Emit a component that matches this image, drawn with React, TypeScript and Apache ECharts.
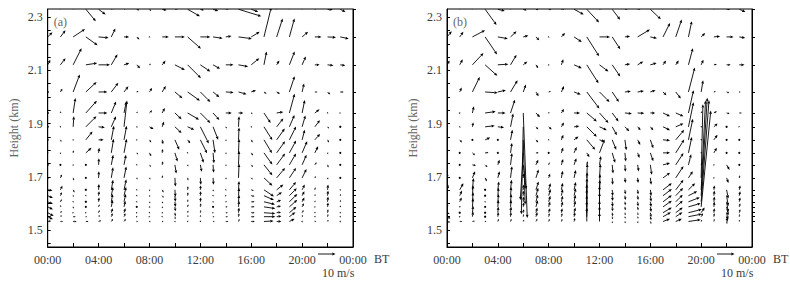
import React, { useEffect, useRef } from "react";
import * as echarts from "echarts";

// hour of day (BT) of each profile column
const hours = [0, 1, 2, 3, 4, 5, 6, 7, 8, 9, 10, 11, 12, 13, 14, 15, 16, 17, 18, 19, 20, 21, 22, 23];
// heights (km) of the wind levels, top to bottom
const heights = [2.33, 2.226, 2.121, 2.019, 1.94, 1.888, 1.839, 1.79, 1.745, 1.696, 1.651, 1.629, 1.606, 1.587, 1.565, 1.55, 1.532];
const xTickLabels = ["00:00", "04:00", "08:00", "12:00", "16:00", "20:00", "00:00"];
const yTickLabels = [1.5, 1.7, 1.9, 2.1, 2.3];
const refSpeed = 10; // m/s, key arrow

// wind (u, v) in m/s, one row per height, one pair per hour — panel (a)
const windA: number[][][] = [
  [[1,2],[1.5,2],[2,3],[5.7,-6.9],[4,-3],[2,1],[1,0.5],[1.5,-0.5],[1,-1],[2.5,-0.5],[2,0.5],[7,-4],[2,-0.5],[3,-1],[2,0.5],[13,-4],[4,-1.5],[2,3],[2,3],[1,2],[1,1],[1,0.5],[3,-0.3],[3,-1.5]],
  [[2.7,2.7],[2.9,3.8],[6.8,4.5],[6.7,-4.8],[5.7,-0.5],[2.3,4.8],[2.9,0],[1.5,-1.5],[0.5,-0.3],[3.8,0],[5.7,0],[7.6,-6.7],[5.7,0],[5.5,-0.8],[3.3,0.5],[7.6,-1],[4.8,2.9],[4.2,17],[3.4,10.5],[2.9,10.5],[3.4,2.9],[3.8,0],[4.8,-0.3],[4.8,-1]],
  [[1.5,2.9],[2.9,3.8],[4.8,9.5],[6.5,1],[6.5,0],[3.5,6],[3,1],[1.9,-1.9],[0.8,0.6],[1.9,2.3],[5.7,-2.9],[7.6,-7.6],[5.7,-3.8],[4,-2.3],[4.4,0],[5.5,-1],[4.6,3.8],[1.5,7.6],[1.5,2.5],[3,7.6],[2.1,4.8],[2.7,0],[3.4,-0.4],[2.9,-0.4]],
  [[0.3,0],[1.1,1.9],[3.8,10],[6.1,5.7],[5,0],[4,5.3],[2.5,3.2],[1,0.5],[1.5,2.3],[2.1,3.4],[4.3,-3.6],[7,-5],[5.7,-5.7],[3.6,-3],[4.5,-0.3],[4.6,-1.3],[2.7,1],[1.5,-1],[1.9,-1],[3,9],[1.1,4.8],[1.5,0],[1.5,-1.5],[1.9,0]],
  [[0.2,0],[0.3,1],[1.3,8.5],[6.3,7],[5,0],[2.7,6.5],[1.3,6.5],[0.5,0.8],[1.5,1.5],[1.5,2.9],[3.8,-3.6],[6.5,-3.8],[5.7,-5.7],[3.6,-4],[3.4,0],[2.7,0],[0.8,-0.5],[3.8,-5.7],[3.8,0.6],[3,11],[1.5,7.4],[2.7,2.1],[0.4,-0.5],[0.5,0]],
  [[0.3,0],[0.3,-0.5],[0.4,6],[6,6],[3.6,-0.4],[2.7,6],[1.7,15],[0.5,-0.5],[2.3,-1.3],[1,3],[3.8,-3.6],[3.8,-1.7],[4.8,-9.5],[2.9,-7.4],[0.5,-1],[0.3,6],[0.5,-0.5],[4.8,-7.6],[3.8,4.8],[2.9,6.7],[1.9,6.5],[2.9,3.8],[0.8,-1],[0.3,0]],
  [[0.2,0.3],[0.5,-1.2],[0.3,0.5],[3.8,4.8],[2.9,0],[1.5,8],[1.5,8],[0.3,0.5],[1,-1.5],[0.5,-2.5],[2.5,-5.7],[1.5,-2],[3.8,-7.6],[1.1,-7.6],[0.3,-0.8],[0.3,7],[0.8,-1.5],[4.6,-7.6],[4.6,6.5],[3.8,7.6],[1.5,5.7],[3,3.4],[0.8,-1.5],[0.3,0]],
  [[0.3,0.5],[0.2,-0.8],[0.2,1.5],[3.2,2.9],[0.4,2.9],[1.3,8],[1.5,8],[0.8,-1],[1,-1.9],[0.3,2.2],[1.5,-5],[0.3,-0.5],[1.9,-5.7],[0.5,-6],[0.3,-0.8],[0.3,8],[1,-1.5],[4.8,-6.7],[4.8,6.7],[3.8,7],[2.9,6.7],[1.9,3.8],[0.3,-0.8],[0.3,0]],
  [[0.3,0],[0.2,0.3],[0.2,0.5],[0.3,0.3],[0.2,3.8],[1.1,5.7],[1.1,5.7],[0.3,-0.5],[0.8,-1.2],[0.4,2],[0.8,-5],[0.3,-1],[0.8,-4],[0.3,-4.5],[0.3,-0.8],[0.3,8],[1,-1.3],[4.8,-6],[4.8,6.5],[3.8,6.5],[2.5,5.7],[1,1.5],[0.5,-1.5],[0.3,0]],
  [[0.2,0],[0.8,1.9],[0.5,-1.5],[0.2,0.3],[0.2,3.8],[1,6],[1.3,6.5],[0.3,-1],[0.5,-1],[0.3,1.5],[0.3,-5],[0.3,-1.5],[0.3,-4],[0.3,-4],[0.3,-1],[0.3,8],[0.8,-1],[4.8,-4.5],[4.8,5.7],[3.8,5.7],[2.5,5],[0.5,1],[0.3,-1],[0.3,0]],
  [[2.7,-0.4],[1.1,2.3],[0.8,-1.5],[0.2,0.3],[0.2,3.4],[1,5.7],[1.3,6],[0.3,-0.5],[0.3,-0.8],[0.8,-1.5],[0.3,-4],[0.2,2],[0.2,2.5],[0.2,-1],[0.3,-0.5],[0.3,5],[1.5,-0.5],[5.7,-3.8],[3.8,3],[3.8,4.5],[1.5,3],[0.3,1.5],[0.3,3],[0.3,0.5]],
  [[3,-1.3],[0.8,2],[0.3,-0.8],[0.2,-0.5],[0.3,2.5],[1,5],[1.2,5],[0.3,-0.5],[0.3,-0.8],[0.8,-1.2],[0.3,-3.5],[0.2,2],[0.2,2.5],[0.3,-0.5],[0.5,0],[0.3,4.5],[1.9,-0.3],[5.7,-2.5],[3,2],[4.2,4.2],[1.3,2.5],[0.3,1],[0.3,3],[0.3,1]],
  [[3,-1.3],[0.8,1.5],[0.3,-0.5],[0.3,-0.3],[0.3,2.5],[0.8,4.5],[1,4.5],[0.3,-0.5],[0.5,-0.8],[0.5,-1],[0.3,-3],[0.2,1.5],[0.2,2.5],[0.3,-0.5],[0.8,0],[0.3,4],[1.9,0],[6.3,-1.5],[2.5,1],[4.5,4.5],[1.3,2.5],[0.3,0.8],[0.3,3],[0.3,1]],
  [[3,-1.5],[0.3,1],[0.3,-1],[0.3,0],[0.5,1.5],[0.8,4],[0.8,3.5],[0.3,-0.3],[0.5,-0.5],[0.5,-0.8],[0.3,-2.5],[0.3,1.5],[0.3,2],[0.3,-0.3],[1,0],[0.3,3.5],[1.9,0],[6.5,-1],[2.5,0.5],[4.5,4],[1,2],[0.3,0.5],[0.3,2.5],[0.3,0.8]],
  [[3.4,-1.9],[0.8,1],[0.5,0],[0.5,0],[0.5,1.5],[0.8,2.5],[0.8,2.5],[0.5,0],[0.5,-0.3],[0.5,-0.5],[0.3,-2],[0.3,1.2],[0.3,1.5],[0.5,0],[1.2,0],[0.3,3],[1.9,0],[6.5,-0.5],[2.5,0.3],[4,3.4],[0.8,1.5],[0.5,0.5],[0.3,2],[0.3,0.5]],
  [[3,-1.5],[0.8,0.8],[1.5,0],[0.8,0],[0.8,0.8],[0.8,2],[0.8,2],[0.5,0],[0.5,0],[0.5,-0.3],[0.3,-1.5],[0.3,1],[0.3,1],[0.8,0],[1.3,0],[0.3,2],[1.9,0],[6.5,0],[2.7,0.3],[3.4,2.5],[0.5,1],[0.5,0.5],[0.3,1.5],[0.3,0.5]],
  [[2,0.3],[1.5,0],[2,0],[1.5,0],[1.5,0.5],[1,1.5],[1,1.5],[0.8,0],[0.8,0],[0.8,0],[0.5,-0.5],[0.5,0.5],[0.5,0.5],[1,0],[1.5,0],[0.5,1.5],[2,0],[5.5,0.3],[2.7,0],[3,1.5],[0.3,0.5],[0.8,0.3],[0.5,1],[0.3,0.5]],
];

// wind (u, v) in m/s — panel (b)
const windB: number[][][] = [
  [[1,2],[1,2],[1.5,2],[6.5,-9],[4,-1],[1,1],[2,-0.5],[1.5,-0.3],[1.5,-0.3],[2,0.3],[5.5,-3],[7,-7.5],[2,1],[4.5,-6],[2,0.5],[2,0.5],[6,-5.7],[2,3],[2,3],[1,2],[1,1],[1,1],[2,0],[3.5,-1.5]],
  [[2.7,3.2],[2.1,2.9],[7.2,3.8],[6.8,-10],[5.7,-1],[3.4,3.2],[2.9,0.8],[1.9,-1.9],[0.5,-0.3],[2.1,2.3],[4.4,-2.9],[7,-11],[6,0],[4.6,-7],[3,0.4],[7,4.2],[3.8,-0.8],[4,8],[3.4,9.9],[1.9,9],[2.3,2.3],[3.6,0.4],[4,0],[3.4,-0.6]],
  [[1.5,2.5],[1.7,3.2],[6.3,6.7],[7,-6.3],[6,0.4],[3.4,5.7],[2.3,1.9],[1.3,-1.9],[0.3,0.5],[1.1,3.2],[4.4,-1.9],[6.7,-10.5],[5.1,-3.8],[4.6,-6.7],[3,0.5],[3.2,1.9],[3.6,1],[1.7,2.5],[1.7,2.5],[2.5,9.5],[1.3,2.9],[1.7,0.4],[2.3,0],[3,0]],
  [[0.3,0],[1.1,2.5],[4.2,8.6],[7.2,-0.5],[4.6,1],[4,6.7],[1.5,4.2],[1.5,-2.5],[1.3,0.5],[1.5,3.4],[3.8,-1.5],[7.2,-9.5],[5.7,-5.7],[3.8,-5.7],[3.4,0.4],[3.6,0.6],[3,1],[1.9,-1.9],[2.9,-3.8],[3.6,14],[1.1,6.7],[1.1,0.4],[1.5,-0.6],[0.8,0]],
  [[0.3,0],[0.3,0.5],[0.8,3.8],[6,0.8],[4.4,0],[2.5,7.6],[2.3,-60],[2.3,-2.5],[0.5,0.5],[1.5,2.3],[3.4,0],[5.7,-4.8],[5.1,-5.7],[3.6,-4.8],[4,-0.4],[3.8,-0.2],[2.7,0],[4,-1.9],[4.4,-1.9],[2.9,13],[0.5,1],[1.7,1],[1.7,-0.4],[1.5,0]],
  [[0.3,0],[0.5,-0.5],[0.5,2.5],[5.5,0.6],[3.6,-0.4],[1.5,7.6],[-1.1,-50],[1.3,-1.5],[1.7,-1.5],[1.5,2.5],[3,0.4],[5.7,-5.7],[4.2,-1.9],[2.7,-4.8],[2.5,-2.5],[1.7,-1.9],[1.7,-1.9],[4,-1.9],[4.4,1.9],[2.9,14],[0.5,0.5],[2.1,1.9],[0.3,-0.3],[0.5,0]],
  [[0.3,0],[1.3,-1.5],[0.3,0.3],[2.9,1.3],[0.3,0.3],[1.1,5.7],[1.1,-37],[1.3,-1.5],[0.3,-0.5],[1.1,2.9],[2.5,1.9],[4.8,-5.7],[3,-1],[2.3,-5.7],[0.8,-6],[1.5,-2.9],[1.7,-4.8],[4,-0.4],[4.8,5.7],[2.5,12],[0.5,0.5],[2.1,2.9],[0.3,-0.3],[0.3,0]],
  [[0.3,0],[0.3,0.3],[1.5,-1.3],[1.9,0.2],[0.3,0.3],[0.8,5.7],[-1.7,-27],[1.5,0],[0.3,0.3],[1,3],[1.5,3.4],[1.5,-2.5],[2.9,7.6],[1.7,-5.7],[0.5,-5],[1.1,-2.9],[1.7,-4.8],[4,0],[4.8,7.6],[1.9,9],[0.5,0.5],[1.7,2.9],[0.3,-0.3],[0.3,0]],
  [[0.3,0],[0.3,0],[2,-0.4],[1.3,-1.3],[1,2.9],[0.8,6.7],[1.7,-14],[1.3,2.9],[0.5,1.5],[1,3.4],[1.3,3.8],[0.5,2],[0.8,5],[0.5,-5],[0.3,-4],[0.6,-3.8],[0.8,-5.7],[4,1],[4.4,6.7],[1.5,6],[0.5,1],[0.3,0.5],[1.7,-2.9],[0.3,0.3]],
  [[0.2,2.9],[0.3,0],[1.5,3.8],[1,-1.9],[1,3.8],[0.8,6.7],[0.3,2.5],[1.5,4.8],[0.8,2.3],[0.8,4],[1,4.5],[0.3,8],[0.5,8],[0.3,-4],[0.3,-3],[0.3,-3],[0.5,-4],[4,2.9],[4.4,6.7],[2.5,3.8],[1,42],[0.3,0.5],[1.1,-2.9],[0.3,1.5]],
  [[0.8,2.9],[2.1,3.8],[0.6,6.7],[0.3,0.3],[0.6,4.8],[0.6,5.7],[0.3,3],[1.5,4.8],[1.1,3.8],[0.8,4],[1,4.5],[0.2,10],[0.3,9],[0.3,-3.5],[0.3,-2.5],[0.3,-2.5],[0.5,-3.5],[5,3.8],[4.4,5.7],[3.8,3.8],[2.5,51],[0.3,2.5],[1,-5],[0.5,2.5]],
  [[0.3,0.3],[1.3,2.9],[0.4,6],[0.3,0.3],[0.4,4.5],[0.4,5],[0.3,3],[1.3,4.5],[1.1,3.8],[0.8,3.8],[1,4.2],[0.1,10],[0.2,9],[0.3,-3],[0.3,-2.5],[0.3,-2.5],[0.5,-3.5],[5,3.8],[4.2,4.4],[5,2.5],[3.5,56],[0.3,3],[1,-6],[0.5,2.5]],
  [[0.5,1.5],[1.1,2.5],[0.4,5.5],[0.3,-0.5],[0.4,4.5],[0.4,4.5],[0.3,3],[1.1,4.2],[1,3.4],[0.8,3.5],[0.8,4],[0,10],[0,9],[0.3,-3],[0.3,-2],[0.3,-2.5],[0.5,-3],[5,3.8],[4,4],[6.5,2.5],[4.5,58],[0.3,3],[1,-6],[0.5,2.5]],
  [[0.8,0.8],[0.5,0.5],[0.4,5],[0.3,0],[0.3,4],[0.3,4],[0.3,2.5],[1,3.8],[0.8,3],[0.8,3],[0.8,3.5],[0,10],[0,8],[0.3,-2.5],[0.3,-2],[0.3,-2],[0.5,-3],[5,3.5],[4,3.5],[7,2],[5.5,55],[0.3,3],[1,-5],[0.5,2]],
  [[1.5,-0.8],[0.3,0.3],[0.4,4],[0.3,0],[0.3,3.5],[0.3,3.5],[0.3,2],[0.8,3],[0.8,2.5],[0.5,2.5],[0.8,3],[0,10],[0,7],[0.3,-2],[0.3,-1.5],[0.3,-1.5],[0.5,-2.5],[5,3],[4,3],[7.6,1.9],[2,3],[0.3,2.5],[0.8,-4],[0.5,2]],
  [[2,-1],[0.5,0.3],[0.4,3],[0.3,0],[0.3,2.5],[0.3,2.5],[0.3,1.5],[0.8,2.5],[0.5,2],[0.5,2],[0.5,2.5],[0,9],[0,6],[0.3,-1.5],[0.3,-1.2],[0.3,-1.2],[0.5,-2],[4.5,2.5],[3.8,2.5],[7.6,1.5],[1,2],[0.3,2],[0.5,-3],[0.3,1.5]],
  [[1.9,-0.4],[1.5,0],[1.5,0.3],[0.8,0],[0.5,1.5],[0.5,1.5],[0.5,1],[0.8,1.5],[0.5,1.5],[0.5,1.5],[0.5,2],[0,8],[0,5],[0.3,-1],[0.3,-1],[0.3,-1],[0.5,-1.5],[4,1.5],[3.5,1.5],[7,1],[0.5,1],[0.3,1.5],[0.3,-1.5],[0.3,1]],
];

const K = 1.75; // pixels per m/s
const Y_MIN = 1.436;
const Y_MAX = 2.331;
const FONT = "'Liberation Serif', 'DejaVu Serif', serif";
const LABEL_COLOR = "#3a3a3a";
const NAME_COLOR = "#666";

function buildData(wind: number[][][]) {
  const out: number[][] = [];
  heights.forEach((h, i) => {
    hours.forEach((hr, j) => {
      const w = wind[i][j];
      out.push([hr, h, w[0], w[1]]);
    });
  });
  return out;
}

function arrowShapes(x0: number, y0: number, dx: number, dy: number) {
  const len = Math.sqrt(dx * dx + dy * dy);
  if (len < 0.8) {
    return [{ type: "circle", shape: { cx: x0, cy: y0, r: 1.1 }, style: { fill: "#000" } }];
  }
  const ex = x0 + dx, ey = y0 + dy;
  const ux = dx / len, uy = dy / len;
  const hl = Math.min(3.2, Math.max(1.6, len * 0.6));
  const hw = Math.min(1.4, hl * 0.5);
  const bx = ex - ux * hl, by = ey - uy * hl;
  const children: any[] = [];
  if (len > hl) {
    children.push({ type: "line", shape: { x1: x0, y1: y0, x2: bx, y2: by }, style: { stroke: "#000", lineWidth: 0.9 } });
  }
  children.push({
    type: "polygon",
    shape: { points: [[ex, ey], [bx - uy * hw, by + ux * hw], [bx + uy * hw, by - ux * hw]] },
    style: { fill: "#000" },
  });
  return children;
}

function renderArrow(_params: any, api: any) {
  const x = api.value(0), y = api.value(1), u = api.value(2), v = api.value(3);
  const p = api.coord([x, y]);
  return { type: "group", children: arrowShapes(p[0], p[1], u * K, -v * K) };
}

const leftTicks: number[] = [];
for (let k = 29; k <= 46; k++) leftTicks.push(Math.round(k * 5) / 100);

export default function App() {
  const ref = useRef<HTMLDivElement>(null);
  useEffect(() => {
    if (!ref.current) return;
    const chart = echarts.init(ref.current, null, { renderer: "svg" });
    const grids = [
      { left: 47.7, top: 9, width: 305.3, height: 238 },
      { left: 447, top: 9, width: 305, height: 238 },
    ];
    const xAxes = grids.map((_g, i) => ({
      type: "value",
      gridIndex: i,
      min: 0,
      max: 24,
      interval: 4,
      axisLine: { show: true, lineStyle: { color: "#000", width: 1 } },
      axisTick: { show: true, inside: true, length: 4, lineStyle: { color: "#000" } },
      minorTick: { show: true, splitNumber: 2, length: 4, lineStyle: { color: "#000" } },
      splitLine: { show: false },
      axisLabel: {
        margin: 7,
        fontSize: 12,
        fontFamily: FONT,
        color: LABEL_COLOR,
        formatter: (val: number) => xTickLabels[Math.round(val / 4)],
      },
    }));
    const yAxes: any[] = [];
    grids.forEach((_g, i) => {
      yAxes.push({
        type: "value",
        gridIndex: i,
        position: "left",
        min: Y_MIN,
        max: Y_MAX,
        name: "Height (km)",
        nameLocation: "middle",
        nameGap: 28,
        nameTextStyle: { fontSize: 12, fontFamily: FONT, color: NAME_COLOR },
        axisLine: { show: true, lineStyle: { color: "#000", width: 1 } },
        axisTick: { show: true, inside: true, length: 3, customValues: leftTicks, lineStyle: { color: "#000" } },
        splitLine: { show: false },
        axisLabel: {
          margin: 5,
          fontSize: 12,
          fontFamily: FONT,
          color: LABEL_COLOR,
          customValues: yTickLabels,
          formatter: (val: number) => val.toFixed(1),
        },
      });
      yAxes.push({
        type: "value",
        gridIndex: i,
        position: "right",
        min: Y_MIN,
        max: Y_MAX,
        axisLine: { show: true, lineStyle: { color: "#000", width: 1 } },
        axisTick: { show: true, inside: false, length: 3, customValues: heights, lineStyle: { color: "#000" } },
        axisLabel: { show: false },
        splitLine: { show: false },
      });
    });

    const keyArrow = (x: number, y: number) => ({
      type: "group",
      children: arrowShapes(x, y, refSpeed * K, 0).map((c: any) => ({ ...c, silent: true })),
    });

    const graphic: any[] = [];
    const panelLabels = ["(a)", "(b)"];
    grids.forEach((g, i) => {
      const right = g.left + g.width;
      graphic.push({
        type: "text",
        left: g.left + 6,
        top: 16,
        style: { text: panelLabels[i], fontSize: 12, fontFamily: FONT, fill: NAME_COLOR },
      });
      graphic.push({
        type: "text",
        left: right + 21,
        top: 253,
        style: { text: "BT", fontSize: 12, fontFamily: FONT, fill: LABEL_COLOR },
      });
      graphic.push(keyArrow(right - 35, 254));
      graphic.push({
        type: "text",
        left: right - 31,
        top: 267,
        style: { text: refSpeed + " m/s", fontSize: 12, fontFamily: FONT, fill: LABEL_COLOR },
      });
    });

    chart.setOption({
      animation: false,
      backgroundColor: "#fff",
      grid: grids.map((g) => ({ ...g, show: true, borderColor: "#000", borderWidth: 1, backgroundColor: "transparent" })),
      xAxis: xAxes,
      yAxis: yAxes,
      graphic,
      series: [
        {
          type: "custom",
          xAxisIndex: 0,
          yAxisIndex: 0,
          clip: true,
          silent: true,
          renderItem: renderArrow,
          encode: { x: 0, y: 1 },
          data: buildData(windA),
        },
        {
          type: "custom",
          xAxisIndex: 1,
          yAxisIndex: 2,
          clip: true,
          silent: true,
          renderItem: renderArrow,
          encode: { x: 0, y: 1 },
          data: buildData(windB),
        },
      ],
    });
    return () => chart.dispose();
  }, []);
  return (
    <div
      ref={ref}
      style={{ position: "fixed", left: 0, top: 0, width: 790, height: 287, background: "#fff" }}
    />
  );
}
